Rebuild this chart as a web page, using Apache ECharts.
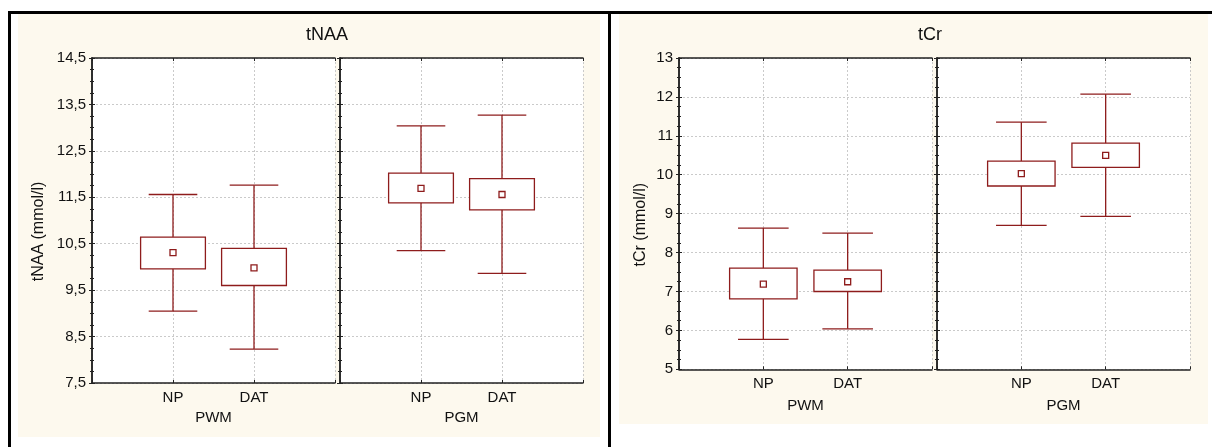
<!DOCTYPE html>
<html>
<head>
<meta charset="utf-8">
<script src="https://cdn.jsdelivr.net/npm/echarts@6/dist/echarts.min.js"></script>
<style>html,body{margin:0;padding:0;background:#fff;}#c{width:1212px;height:447px;}</style>
</head>
<body>
<div id="c"></div>
<script>
// ---- data (values: [whisker low, box low, mean, box high, whisker high]) ----
const categories = ['NP', 'DAT'];
const groups = ['PWM', 'PGM'];
const panelTitles = ['tNAA', 'tCr'];
const yNames = ['tNAA (mmol/l)', 'tCr (mmol/l)'];

const tNAA_PWM_NP  = [9.05, 9.96, 10.31, 10.64, 11.56];
const tNAA_PWM_DAT = [8.23, 9.60, 9.98, 10.40, 11.76];
const tNAA_PGM_NP  = [10.35, 11.38, 11.69, 12.02, 13.04];
const tNAA_PGM_DAT = [9.86, 11.23, 11.56, 11.90, 13.27];

const tCr_PWM_NP  = [5.77, 6.81, 7.19, 7.60, 8.63];
const tCr_PWM_DAT = [6.04, 7.00, 7.25, 7.55, 8.50];
const tCr_PGM_NP  = [8.70, 9.71, 10.03, 10.35, 11.35];
const tCr_PGM_DAT = [8.93, 10.19, 10.50, 10.81, 12.07];

// axis ranges / ticks
const tNAA_ticks = [7.5, 8.5, 9.5, 10.5, 11.5, 12.5, 13.5, 14.5];
const tCr_ticks  = [5, 6, 7, 8, 9, 10, 11, 12, 13];

// ---- layout ----
const FONT = 'Liberation Sans';
const LBL = 15;
const grids = [
  {left: 92,  top: 58, width: 243, height: 325},
  {left: 340, top: 58, width: 243, height: 325},
  {left: 679, top: 58, width: 253, height: 311.3},
  {left: 937, top: 58, width: 253, height: 311.3}
];
const panelData = [
  [tNAA_PWM_NP, tNAA_PWM_DAT],
  [tNAA_PGM_NP, tNAA_PGM_DAT],
  [tCr_PWM_NP, tCr_PWM_DAT],
  [tCr_PGM_NP, tCr_PGM_DAT]
];
const panelTicks = [tNAA_ticks, tNAA_ticks, tCr_ticks, tCr_ticks];

const boxColor = '#8e1c1c';
const axisColor = '#222';

function renderBox(params, api) {
  const x = api.value(0);
  const lo = api.value(1), q1 = api.value(2), m = api.value(3), q3 = api.value(4), hi = api.value(5);
  const step = api.size([1, 0])[0];
  const boxW = step * 0.8, capW = step * 0.6, sq = 6;
  const pLo = api.coord([x, lo]), pQ1 = api.coord([x, q1]), pM = api.coord([x, m]);
  const pQ3 = api.coord([x, q3]), pHi = api.coord([x, hi]);
  const cx = pLo[0];
  const st = {stroke: boxColor, lineWidth: 1.3, fill: null};
  return {
    type: 'group',
    children: [
      {type: 'line', shape: {x1: cx, y1: pLo[1], x2: cx, y2: pQ1[1]}, style: st},
      {type: 'line', shape: {x1: cx, y1: pQ3[1], x2: cx, y2: pHi[1]}, style: st},
      {type: 'line', shape: {x1: cx - capW / 2, y1: pLo[1], x2: cx + capW / 2, y2: pLo[1]}, style: st},
      {type: 'line', shape: {x1: cx - capW / 2, y1: pHi[1], x2: cx + capW / 2, y2: pHi[1]}, style: st},
      {type: 'rect', shape: {x: cx - boxW / 2, y: pQ3[1], width: boxW, height: pQ1[1] - pQ3[1]},
        style: {stroke: boxColor, lineWidth: 1.3, fill: '#fff'}},
      {type: 'rect', shape: {x: cx - sq / 2, y: pM[1] - sq / 2, width: sq, height: sq},
        style: {stroke: boxColor, lineWidth: 1.3, fill: '#fff'}}
    ]
  };
}

const xAxes = [], yAxes = [], series = [];
grids.forEach((g, i) => {
  const ticks = panelTicks[i];
  const ymin = ticks[0], ymax = ticks[ticks.length - 1];
  const isFirst = (i % 2 === 0);
  const isTNAA = i < 2;
  xAxes.push({
    gridIndex: i, type: 'value', min: 0, max: 3, interval: 1, position: 'bottom',
    name: groups[i % 2], nameLocation: 'middle', nameGap: isTNAA ? 27 : 29,
    nameTextStyle: {fontFamily: FONT, fontSize: LBL, color: '#111'},
    axisLine: {show: true, lineStyle: {color: axisColor, width: 1.5}},
    axisTick: {show: true, inside: true, length: 3, lineStyle: {color: axisColor}},
    axisLabel: {fontFamily: FONT, fontSize: LBL, color: '#111', margin: 7,
      formatter: v => categories[v - 1] || ''},
    splitLine: {show: true, lineStyle: {color: '#cacaca', type: [2, 2], width: 1}}
  });
  xAxes.push({
    gridIndex: i, type: 'value', min: 0, max: 3, interval: 1, position: 'top',
    axisLine: {show: true, lineStyle: {color: axisColor, width: 1.5}},
    axisTick: {show: true, inside: true, length: 3, lineStyle: {color: axisColor}},
    axisLabel: {show: false}, splitLine: {show: false}
  });
  yAxes.push({
    gridIndex: i, type: 'value', min: ymin, max: ymax, interval: 1, position: 'left',
    name: isFirst ? yNames[isTNAA ? 0 : 1] : '', nameLocation: 'middle',
    nameGap: isTNAA ? 45 : 30,
    nameTextStyle: {fontFamily: FONT, fontSize: 16, color: '#111', padding: [0, 22, 0, 0]},
    axisLine: {show: true, lineStyle: {color: axisColor, width: 1.5}},
    axisTick: {show: true, inside: true, length: 3, lineStyle: {color: axisColor}},
    minorTick: {show: true, splitNumber: 4, length: 2, lineStyle: {color: axisColor}},
    axisLabel: {show: isFirst, fontFamily: FONT, fontSize: LBL, color: '#111', margin: 6,
      formatter: v => String(v).replace('.', ',')},
    splitLine: {show: true, lineStyle: {color: '#cacaca', type: [2, 2], width: 1}}
  });
  yAxes.push({
    gridIndex: i, type: 'value', min: ymin, max: ymax, interval: 1, position: 'right',
    axisLine: {show: true, lineStyle: {color: axisColor, width: 1.5}},
    axisTick: {show: true, inside: true, length: 3, lineStyle: {color: axisColor}},
    minorTick: {show: true, splitNumber: 4, length: 2, lineStyle: {color: axisColor}},
    axisLabel: {show: false}, splitLine: {show: false}
  });
  series.push({
    type: 'custom', xAxisIndex: 2 * i, yAxisIndex: 2 * i,
    renderItem: renderBox,
    encode: {x: 0, y: [1, 2, 3, 4, 5]},
    data: panelData[i].map((d, k) => [k + 1].concat(d)),
    silent: true
  });
});

const chart = echarts.init(document.getElementById('c'), null, {renderer: 'canvas'});
chart.setOption({
  animation: false,
  backgroundColor: '#fff',
  title: [
    {text: panelTitles[0], left: 322, top: 21, textAlign: 'center',
      textStyle: {fontFamily: FONT, fontSize: 18, fontWeight: 'normal', color: '#111'}},
    {text: panelTitles[1], left: 925, top: 21, textAlign: 'center',
      textStyle: {fontFamily: FONT, fontSize: 18, fontWeight: 'normal', color: '#111'}}
  ],
  graphic: [
    {type: 'rect', z: -10, shape: {x: 18, y: 14, width: 582, height: 423}, style: {fill: '#fdf9ee'}},
    {type: 'rect', z: -10, shape: {x: 619, y: 14, width: 589, height: 410}, style: {fill: '#fdf9ee'}},
    {type: 'rect', z: -10, shape: {x: 8, y: 11, width: 1204, height: 3}, style: {fill: '#000'}},
    {type: 'rect', z: -10, shape: {x: 8, y: 11, width: 3, height: 436}, style: {fill: '#000'}},
    {type: 'rect', z: -10, shape: {x: 608, y: 11, width: 3, height: 436}, style: {fill: '#000'}}
  ],
  grid: grids.map(g => Object.assign({show: true, backgroundColor: '#fff', borderWidth: 0}, g)),
  xAxis: xAxes,
  yAxis: yAxes,
  series: series
});
</script>
</body>
</html>
